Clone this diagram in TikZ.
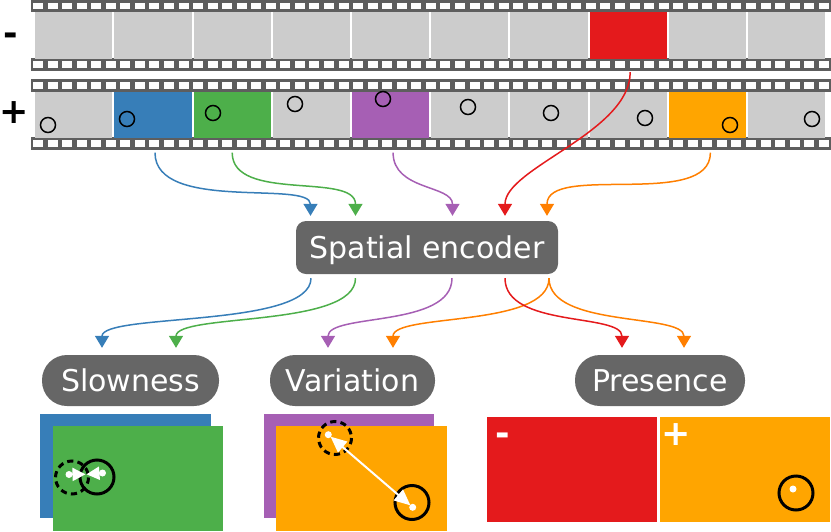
\documentclass[tikz,border=0pt]{standalone}
\usepackage{fontspec}
\setmainfont{DejaVu Sans}
\usetikzlibrary{arrows.meta,calc}
\definecolor{cblue}{HTML}{377EB8}
\definecolor{cgreen}{HTML}{4DAF4A}
\definecolor{cpurple}{HTML}{A65FB4}
\definecolor{cred}{HTML}{E41A1C}
\definecolor{corange}{HTML}{FFA500}
\definecolor{carrow}{HTML}{FF7F00}
\definecolor{fgray}{HTML}{CCCCCC}
\definecolor{bandgray}{HTML}{5E5E5E}
\definecolor{boxgray}{HTML}{666666}
\begin{document}
\begin{tikzpicture}[x=1pt,y=-1pt,
  frm/.style={rectangle,inner sep=0pt,minimum width=77.2pt,minimum height=46pt,anchor=north west,fill=fgray},
  bandfill/.style={fill=bandgray},
  holefill/.style={fill=white},
  smallc/.style={draw=black,line width=1.5pt},
  conn/.style={line width=1.5pt,-{Triangle[length=12pt,width=14pt]}},
  graybox/.style={rectangle,fill=boxgray,text=white,inner sep=0pt,font=\fontsize{30}{36}\selectfont},
  pmsign/.style={font=\fontsize{35}{40}\selectfont\bfseries,inner sep=0pt,anchor=base},
  bigc/.style={draw=black,line width=3pt},
  dashc/.style={draw=black,line width=3pt,dash pattern=on 6.2pt off 4.2pt},
  wdot/.style={fill=white},
  warrow/.style={draw=white,line width=2pt},
]
\useasboundingbox (0,0) rectangle (831,531);

% ---------- film strip 1 ----------
\fill[bandfill] (31,-0.5) rectangle (831,12);
\fill[bandfill] (31,58.3) rectangle (831,70.8);
\foreach \k in {0,...,54} {
  \fill[holefill] ({33+14.55*\k},2.8) rectangle ++(10,6.3);
  \fill[holefill] ({33+14.55*\k},61.4) rectangle ++(10,6.3);
}
\foreach \i/\c in {0/fgray,1/fgray,2/fgray,3/fgray,4/fgray,5/fgray,6/fgray,7/cred,8/fgray,9/fgray}
  \node[frm,fill=\c,minimum height=46.3pt] (t\i) at ({35+79.2*\i},12) {};

% ---------- film strip 2 ----------
\fill[bandfill] (31,79.2) rectangle (831,91.7);
\fill[bandfill] (31,137.3) rectangle (831,149.8);
\foreach \k in {0,...,54} {
  \fill[holefill] ({33+14.55*\k},82.3) rectangle ++(10,6.3);
  \fill[holefill] ({33+14.55*\k},140.4) rectangle ++(10,6.3);
}
\foreach \i/\c in {0/fgray,1/cblue,2/cgreen,3/fgray,4/cpurple,5/fgray,6/fgray,7/fgray,8/corange,9/fgray}
  \node[frm,fill=\c,minimum height=45.6pt] (b\i) at ({35+79.2*\i},91.7) {};

\foreach \p in {(48,125),(127,119),(213,113),(295,104),(383,99),(468,107),(551,113),(645,118),(730,125),(812,119)}
  \draw[smallc] \p circle[radius=7.5];

\node[pmsign] (minus) at (10.5,45.5) {-};
\node[pmsign] (plus) at (14.5,123) {+};

% ---------- encoder ----------
\node[graybox,minimum width=262pt,minimum height=53pt,rounded corners=10pt,text depth=0pt] (enc) at (427,247.5) {Spatial encoder};

% ---------- heads ----------
\node[graybox,minimum width=177pt,minimum height=51pt,rounded corners=25pt] (slow) at (130.5,380.5) {Slowness};
\node[graybox,minimum width=165pt,minimum height=51pt,rounded corners=25pt] (vari) at (352.5,380.5) {Variation};
\node[graybox,minimum width=170pt,minimum height=51pt,rounded corners=25pt] (pres) at (660,380.5) {Presence};

% ---------- input connectors ----------
\draw[conn,cblue] ($(b1.south)+(2,15)$) .. controls +(0,60) and +(0,-36) .. ($(enc.north)+(-116.5,-5)$);
\draw[conn,cgreen] ($(b2.south)+(0,15)$) .. controls +(0,50) and +(0,-44) .. ($(enc.north)+(-71.5,-5)$);
\draw[conn,cpurple] ($(b4.south)+(2.5,15)$) .. controls +(0,38) and +(0,-31) .. ($(enc.north)+(25.5,-5)$);
\draw[conn,cred] ($(t7.south)+(2,13.5)$) .. controls +(0,60) and +(0,-48) .. ($(enc.north)+(78,-5)$);
\draw[conn,carrow] ($(b8.south)+(3,15)$) .. controls +(0,57) and +(0,-53) .. ($(enc.north)+(120,-5)$);

% ---------- output connectors ----------
\draw[conn,cblue] ($(enc.south)+(-116,4)$) .. controls +(0,50) and +(0,-35) .. ($(slow.north)+(-28.5,-7)$);
\draw[conn,cgreen] ($(enc.south)+(-71.5,4)$) .. controls +(0,50) and +(0,-35) .. ($(slow.north)+(45.5,-7)$);
\draw[conn,cpurple] ($(enc.south)+(25,4)$) .. controls +(0,50) and +(0,-35) .. ($(vari.north)+(-24.5,-7)$);
\draw[conn,carrow] ($(enc.south)+(122,4)$) .. controls +(0,50) and +(0,-35) .. ($(vari.north)+(40.5,-7)$);
\draw[conn,cred] ($(enc.south)+(78,4)$) .. controls +(0,50) and +(0,-35) .. ($(pres.north)+(-38,-7)$);
\draw[conn,carrow] ($(enc.south)+(122,4)$) .. controls +(0,50) and +(0,-35) .. ($(pres.north)+(24,-7)$);

% ---------- Slowness panel ----------
\fill[cblue] (40,414) rectangle (211,518);
\fill[cgreen] (53,426) rectangle (223,531);
\draw[dashc] (72,477.5) circle[radius=16.5];
\draw[bigc] (97,477) circle[radius=17];
\coordinate (sa) at (69,474.5);
\coordinate (sb) at (102.5,473);
\coordinate (sm1) at (85.5,474.3);
\coordinate (sm2) at (86.5,474.3);
\draw[warrow,-{Triangle[length=13pt,width=13pt]}] (sa) -- (sm1);
\draw[warrow,-{Triangle[length=13pt,width=13pt]}] (sb) -- (sm2);
\fill[wdot] (sa) circle[radius=3.5];
\fill[wdot] (sb) circle[radius=3.5];

% ---------- Variation panel ----------
\fill[cpurple] (264,414) rectangle (434,518);
\fill[corange] (276,426) rectangle (447,531);
\draw[dashc] (335,438) circle[radius=16.5];
\draw[bigc] (412,502.5) circle[radius=17];
\coordinate (va) at (328.3,434.7);
\coordinate (vb) at (412.7,507.3);
\draw[warrow,{Triangle[length=16pt,width=14pt]}-{Triangle[length=16pt,width=14pt]},shorten <=3pt,shorten >=3pt] (va) -- (vb);
\fill[wdot] (va) circle[radius=3.5];
\fill[wdot] (vb) circle[radius=3.5];

% ---------- Presence panel ----------
\fill[cred] (487,417) rectangle (657,522);
\fill[corange] (660,417) rectangle (830,522);
\node[pmsign,text=white] (pminus) at (503,445) {-};
\node[pmsign,text=white] (pplus) at (676,445) {+};
\draw[bigc] (796,493) circle[radius=17];
\fill[wdot] (793,489) circle[radius=3.5];
\end{tikzpicture}
\end{document}
